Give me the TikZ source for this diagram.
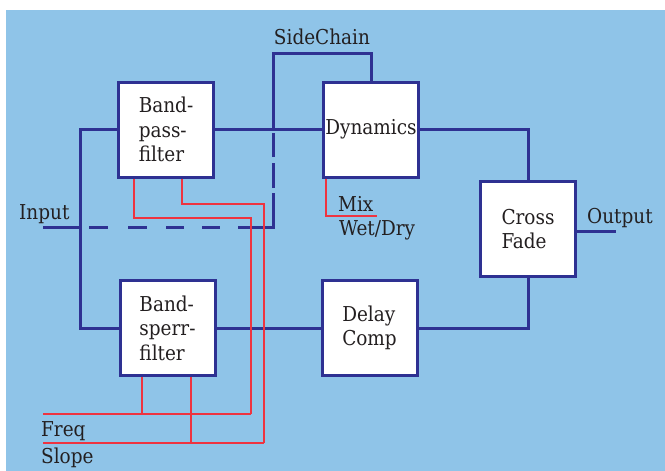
\documentclass[tikz,border=0pt]{standalone}
\usepackage{fontspec}
\setmainfont{DejaVu Serif Condensed}
\usepackage{xcolor}
\definecolor{bgblue}{HTML}{8FC4E8}
\definecolor{lineblue}{HTML}{2E3192}
\definecolor{ctlred}{HTML}{EE3340}
\definecolor{txtgray}{HTML}{231F20}
\usepackage{tikz}
\usetikzlibrary{positioning,calc}
\tikzset{
  fxbox/.style ={rectangle, draw=lineblue, fill=white, line width=3pt,
                 minimum width=95pt, minimum height=95pt, inner sep=0pt,
                 align=left, text=txtgray, font=\fontsize{20.5}{24.5}\selectfont},
  sig/.style   ={draw=lineblue, line width=3pt},
  byp/.style   ={sig, dash pattern=on 0pt off 9pt on 19pt off 20pt on 19pt off 19pt
                 on 18pt off 18pt on 18pt off 18pt on 69pt off 5pt on 25pt off 6pt
                 on 24pt off 5pt},
  ctl/.style   ={draw=ctlred, line width=1.6pt},
  lbl/.style   ={text=txtgray, inner sep=0pt, anchor=base west,
                 font=\fontsize{20.5}{24}\selectfont},
}

\begin{document}
\begin{tikzpicture}[x=1pt, y=-1pt]
  \useasboundingbox (0,0) rectangle (665,471);
  \fill[bgblue] (6,9.5) rectangle (665,471);

  % processing blocks
  \node[fxbox] (bp)  at (166,129.5) {Band-\\pass-\\filter};
  \node[fxbox] (dyn) at (371,129.5) {Dynamics};
  \node[fxbox] (cf)  at (528,229)   {Cross\\Fade};
  \node[fxbox] (bs)  at (167.5,328) {Band-\\sperr-\\filter};
  \node[fxbox] (dc)  at (369.5,328) {Delay\\Comp};

  \coordinate (inp)   at (43,227);
  \coordinate (jn)    at (80,227);
  \coordinate (sc)    at (273,129.5);
  \coordinate (sctop) at (273,53);
  \coordinate (bc)    at (273,227);
  \coordinate (outp)  at (616,231);
  \coordinate (fq)    at (43,414);
  \coordinate (fqe)   at (251,414);
  \coordinate (sl)    at (43,443);
  \coordinate (sle)   at (264,443);

  % audio path
  \draw[sig] (inp) -- (jn);
  \draw[sig] (bp.west) -| (jn) |- (bs.west);
  \draw[sig] (bp) -- (dyn);
  \draw[sig] (sc) -- (sctop) -| (dyn.north);
  \draw[sig] (dyn.east) -| (cf.north);
  \draw[sig] (bs) -- (dc);
  \draw[sig] (dc.east) -| (cf.south);
  \draw[sig] (cf.east |- outp) -- (outp);
  \draw[byp] (jn) -- (bc) -- (sc);

  % control lines
  \draw[ctl] ([xshift=-32pt]bp.south) -- ++(0,39.5) -| (fqe);
  \draw[ctl] ([xshift=16pt]bp.south) -- ++(0,25.5) -| (sle);
  \draw[ctl] ([xshift=-25.5pt]bs.south) -- ([xshift=-25.5pt]bs.south |- fq);
  \draw[ctl] ([xshift=23.5pt]bs.south) -- ([xshift=23.5pt]bs.south |- sl);
  \draw[ctl] (fq) -- (fqe);
  \draw[ctl] (sl) -- (sle);
  \draw[ctl] ([xshift=-45pt]dyn.south) -- ++(0,37.5) -- ++(51,0);

  % labels
  \node[lbl] (lblin)  at (19,219)  {Input};
  \node[lbl] (lblout) at (587,223) {Output};
  \node[lbl, anchor=base] (lblsc) at (322,45) {SideChain};
  \node[lbl] (lblmix) at (338,211) {Mix};
  \node[lbl] (lblwd)  at (339,235) {Wet/Dry};
  \node[lbl] (lblfq)  at (41,436)  {Freq};
  \node[lbl] (lblsl)  at (41,463)  {Slope};
\end{tikzpicture}
\end{document}
